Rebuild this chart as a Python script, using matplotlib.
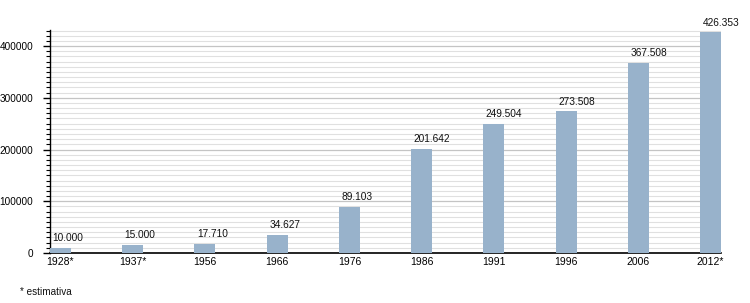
import matplotlib
matplotlib.use("Agg")
import matplotlib.pyplot as plt
from matplotlib.ticker import MultipleLocator
import numpy as np

plt.rcParams['font.family'] = ['Liberation Sans', 'DejaVu Sans']

categories = ["1928*", "1937*", "1956", "1966", "1976", "1986", "1991", "1996", "2006", "2012*"]
values = [10000, 15000, 17710, 34627, 89103, 201642, 249504, 273508, 367508, 426353]
value_labels = ["10.000", "15.000", "17.710", "34.627", "89.103", "201.642", "249.504", "273.508", "367.508", "426.353"]

fig = plt.figure(figsize=(7.5, 3.03), dpi=100)
ax = fig.add_axes([50/750, 50/303, 671/750, 223/303])

x = np.arange(len(categories))
w = 0.29
bars = ax.bar(x, values, width=w, color="#98b2cb", zorder=3)

for xi, v, lab in zip(x, values, value_labels):
    ax.annotate(lab, xy=(xi - w/2, v), xytext=(1.8, 3.5), textcoords="offset points",
                ha="left", va="bottom", fontsize=7.3, color="#111111", zorder=4)

ax.set_xlim(-w/2, len(categories) - 1 + w/2)
ax.set_ylim(0, 431000)
ax.yaxis.set_major_locator(MultipleLocator(100000))
ax.yaxis.set_minor_locator(MultipleLocator(10000))
ax.grid(axis='y', which='major', color="#c4c4c4", linewidth=0.9, zorder=0)
ax.grid(axis='y', which='minor', color="#e0e0e0", linewidth=0.8, zorder=0)
ax.set_xticks(x)
ax.set_xticklabels(categories, fontsize=7.5)
ax.tick_params(axis='x', length=0, pad=3)
ax.tick_params(axis='y', which='major', length=5, width=1, labelsize=7.2, pad=7)
ax.tick_params(axis='y', which='minor', length=3, width=0.8)
for s in ['top', 'right']:
    ax.spines[s].set_visible(False)
ax.spines['left'].set_linewidth(1)
ax.spines['bottom'].set_linewidth(1.2)

fig.text(20/750, 1 - 292/303, "* estimativa", fontsize=7.2, ha="left", va="center", color="#111111")

fig.savefig("out.png", dpi=100)
